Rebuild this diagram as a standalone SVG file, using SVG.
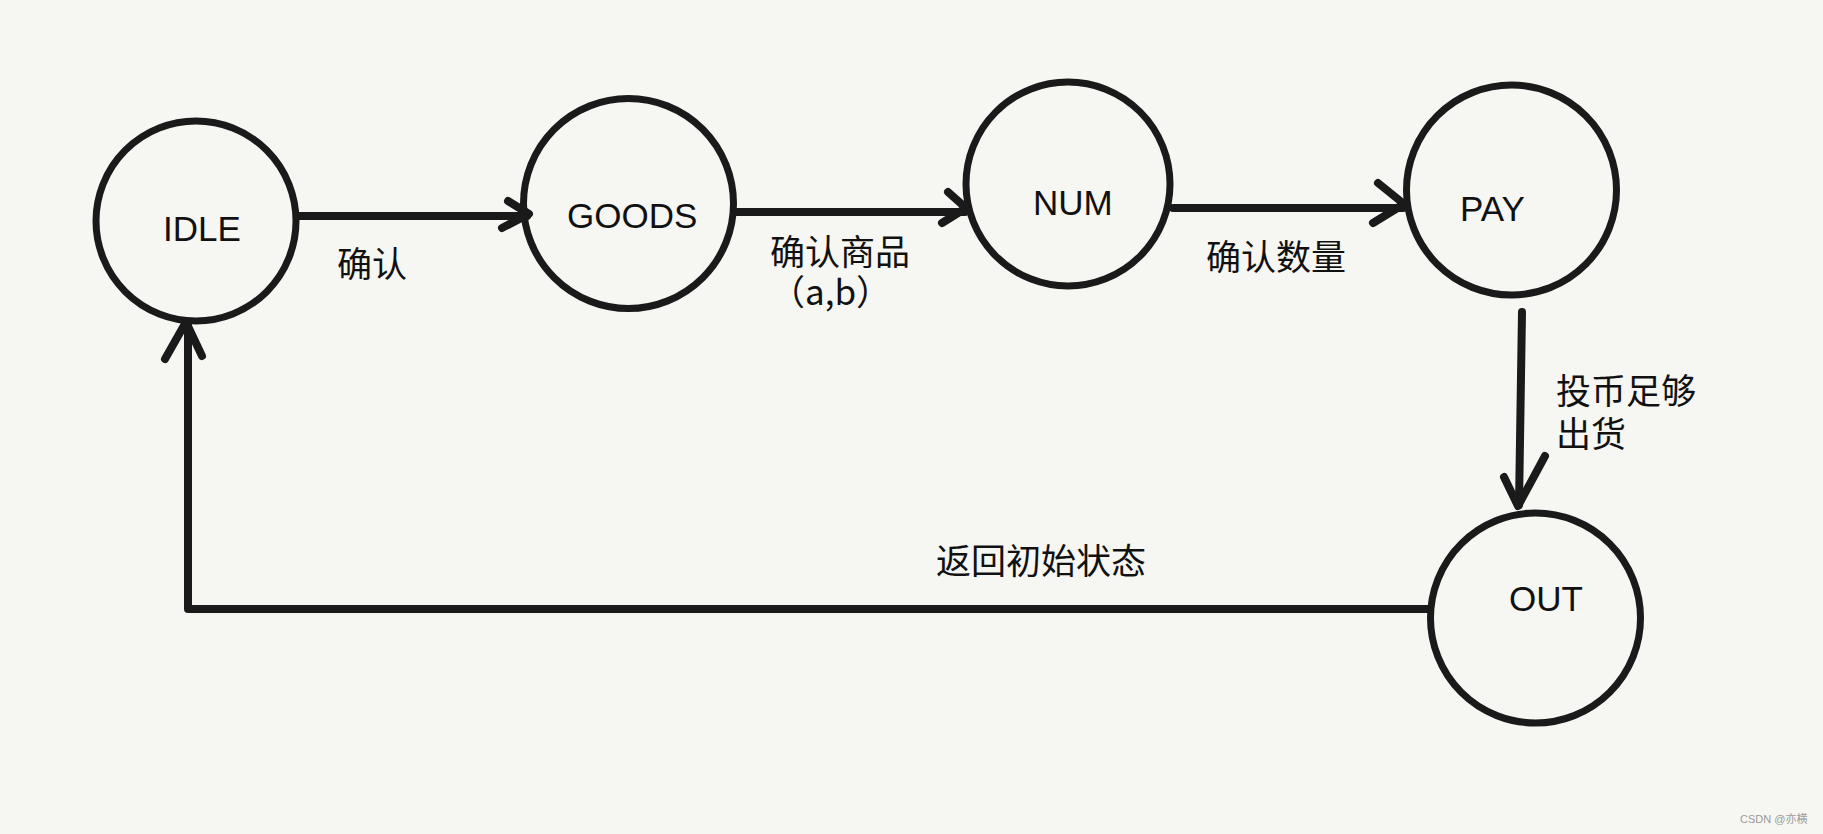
<svg xmlns="http://www.w3.org/2000/svg" width="1823" height="834" viewBox="0 0 1823 834">
<style>
.node{fill:none;stroke:#1a1a1a;stroke-width:7}
.lbl{font-family:"Liberation Sans","Noto Sans CJK SC",sans-serif;font-size:35px;fill:#111}
.cjk{font-family:"Noto Sans CJK SC","Liberation Sans",sans-serif;font-size:35px;fill:#111}
.edge{fill:none;stroke:#1a1a1a;stroke-width:8;stroke-linecap:round;stroke-linejoin:round}
.wm{font-family:"Liberation Sans","Noto Sans CJK SC",sans-serif;font-size:11px;fill:#9a9a9a}
</style>
<rect x="0" y="0" width="1823" height="834" fill="#f6f6f2"/>
<g id="connectors">
<g id="e-idle-goods"><line class="edge" x1="299" y1="216" x2="527" y2="216"/><polyline class="edge" points="508,201 529,214 502,228"/></g>
<g id="e-goods-num"><line class="edge" x1="737" y1="212" x2="965" y2="212"/><polyline class="edge" points="948,192 966,208 942,223"/></g>
<g id="e-num-pay"><line class="edge" x1="1173" y1="208" x2="1403" y2="208"/><polyline class="edge" points="1378,183 1404,204 1373,223"/></g>
<g id="e-pay-out"><line class="edge" x1="1522" y1="312" x2="1519" y2="505"/><polyline class="edge" points="1504,477 1518,506 1545,456"/></g>
<g id="e-out-idle"><polyline class="edge" points="1428,609 188,609 188,323"/><polyline class="edge" points="165,359 186,322 202,356"/></g>
<text class="cjk" x="337" y="277">确认</text>
<text class="cjk" x="770" y="265">确认商品<tspan x="770" y="305">（a,b）</tspan></text>
<text class="cjk" x="1206" y="270">确认数量</text>
<text class="cjk" x="1556" y="404">投币足够<tspan x="1556" y="447">出货</tspan></text>
<text class="cjk" x="936" y="574">返回初始状态</text>
</g>
<g id="IDLE"><circle class="node" cx="196" cy="221" r="100"/><text class="lbl" x="163" y="241">IDLE</text></g>
<g id="GOODS"><circle class="node" cx="628.5" cy="203.5" r="105"/><text class="lbl" x="567" y="228">GOODS</text></g>
<g id="NUM"><circle class="node" cx="1068" cy="184" r="102"/><text class="lbl" x="1033" y="215">NUM</text></g>
<g id="PAY"><circle class="node" cx="1511.5" cy="190" r="105"/><text class="lbl" x="1460" y="221">PAY</text></g>
<g id="OUT"><circle class="node" cx="1535.5" cy="618" r="105"/><text class="lbl" x="1509" y="611">OUT</text></g>
<text class="wm" x="1740" y="823">CSDN @亦横</text>
</svg>
